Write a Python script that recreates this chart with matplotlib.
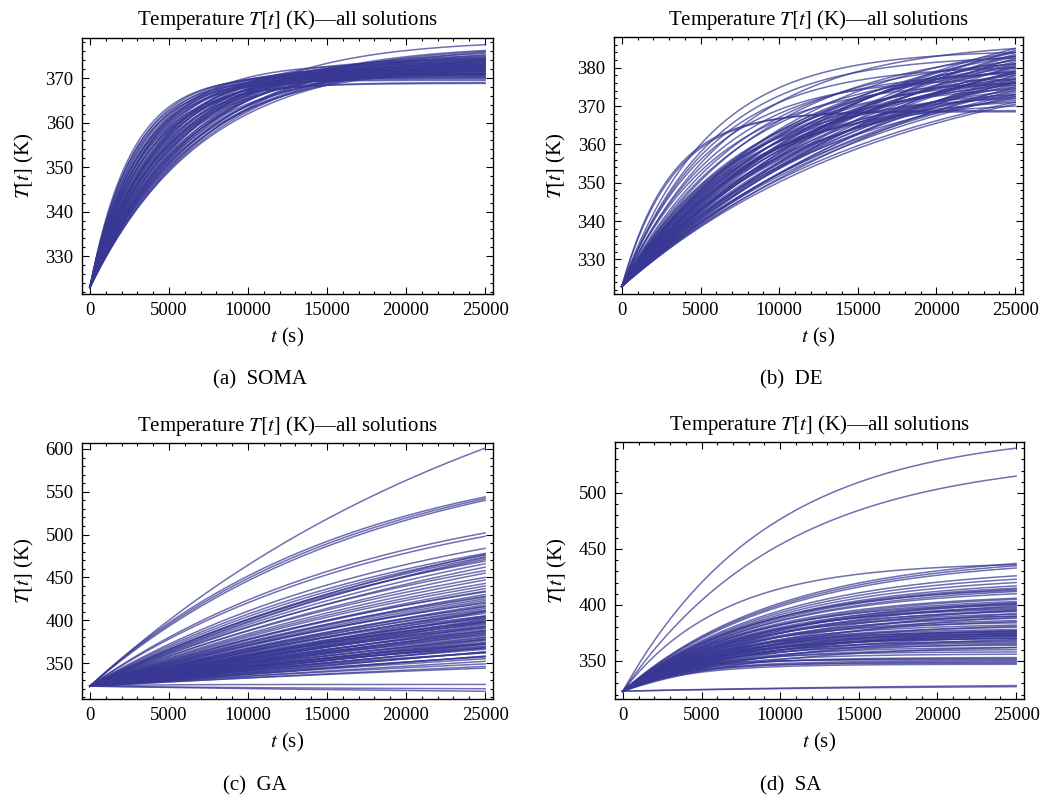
import numpy as np
import matplotlib
matplotlib.use("Agg")
import matplotlib.pyplot as plt
from matplotlib.ticker import MultipleLocator

# ---------------- data ----------------
T0 = 323.0           # initial temperature (K)
t_end = 25000.0      # s
# For each solution curve: temperature read at t = 5000 s and at t = 25000 s.
soma_T5 = [363.5, 363, 362.6, 362.2, 362, 361.7, 361.3, 361, 360.8, 360.5, 360.2, 360,
           359.7, 359.4, 359.1, 358.9, 358.6, 358.3, 358, 357.8, 357.5, 357.2, 357, 356.7,
           356.4, 356.1, 355.9, 355.6, 355.3, 355,
           354.7, 354.4, 354.1, 353.8, 353.5, 353.2, 352.9, 352.6, 352.3, 352, 351.7, 351.4,
           351.1, 350.8, 350.5, 350.2, 349.9, 349.6, 349.3, 349,
           358.4, 356.9, 355.2, 353.9, 352.5, 351.9, 357.6, 360.6, 354.8, 350.9]
soma_T25 = [370.5, 371, 370, 371.5, 369.5, 370.8, 372, 370.2, 371.2, 369.8, 372.5, 371,
            370.6, 372.2, 368.8, 373, 371.4, 369, 372.8, 370.9, 373.5, 371.8, 372.4, 374,
            371, 373.2, 372, 374.5, 371.6, 373.8,
            372.6, 375, 373.4, 371.9, 374.2, 377.5, 372.9, 375.5, 373.7, 374.8, 372.3, 376,
            373.1, 374.4, 375.2, 372.7, 373.9, 375.8, 374.1, 373.3,
            370.3, 372.1, 373, 374.6, 371.5, 376.2, 374.2, 373.3, 370.8, 371.7]

de_T5 = [360, 359.5, 359, 358, 357, 356, 355, 354, 353, 352, 351, 350.5,
         349.5, 349.2, 348.9, 348.6, 348.3, 348, 347.7, 347.4, 347.1, 346.8, 346.5, 346.2,
         345.9, 345.6, 345.3, 345, 344.7, 344.4, 344.1, 343.8, 343.5, 343.2, 342.9, 342.6,
         342.3, 342, 341.7, 341.4, 341.1, 340.8, 340.5, 340.2, 339.9, 339.6, 339.3, 339,
         338.7, 338.5,
         348.1, 347.3, 346.0, 345.1, 344.2, 343.3, 342.5, 341.6, 340.7, 339.8, 346.7, 344.9,
         343.0, 341.2, 339.5, 347.9, 345.4, 342.8]
de_T25 = [384, 368.5, 368.8, 382.5, 380, 377, 385, 378.5, 376, 381, 379, 383,
          376, 372, 379, 374.5, 381, 377, 373, 380.5, 375.5, 383, 378, 372.5,
          382, 376.5, 379.5, 374, 384, 377.5, 371.5, 381.5, 375, 380, 373.5, 378.5,
          383.5, 376, 372, 379, 382.5, 374.5, 377, 380.5, 373, 376.5, 378, 371,
          375, 370.5,
          384, 370, 382, 377, 385, 373, 381, 376, 379, 374, 371, 378.5,
          383, 375.5, 372.5, 380, 376, 384.5]

ga_T5 = [400, 397, 395, 393, 380, 378, 372, 370, 368, 366, 364, 366, 362, 360, 361, 358,
         356, 355, 354, 352, 353, 350, 351, 349, 348, 346, 347, 345, 344, 345, 342, 343,
         341, 342, 340, 339, 340, 338, 339, 337, 336, 337, 335, 336, 334, 335, 333, 334,
         332, 333, 331, 332, 330, 331, 330, 329, 329, 328, 328, 324.5, 321.5, 322,
         358, 348, 344, 341, 339, 337, 336, 334, 333, 332, 331, 346, 350, 352, 363, 365,
         340, 338, 335, 330,
         345, 344, 343, 342, 341, 340, 339, 338, 337, 336, 335, 334, 341, 346, 349, 336, 333]
ga_T25 = [601, 544, 542, 540, 502, 498, 484, 478, 476, 474, 471, 469, 466, 462, 458, 455,
          447, 443, 440, 437, 433, 430, 428, 425, 421, 418, 416, 414, 411, 408, 405, 403,
          401, 399, 397, 395, 392, 390, 388, 386, 384, 382, 380, 378, 376, 374, 372, 370,
          368, 366, 364, 362, 360, 357, 355, 352, 349, 346, 344, 325, 317, 320,
          450, 423, 410, 404, 398, 394, 389, 383, 379, 375, 370, 412, 427, 434, 473, 477,
          400, 385, 372, 365,
          405, 402, 398, 396, 393, 391, 387, 383, 380, 377, 373, 369, 410, 416, 420, 367, 362]

sa_T5 = [420, 404, 386,
         372, 371, 370, 368, 367, 366, 365, 364, 366, 363, 362, 361, 362, 360, 359, 360,
         358, 357, 358, 356, 355, 356, 354, 353, 354, 352, 351, 352, 350, 349, 350, 348,
         347, 348, 346, 345, 346, 344, 343, 344, 342, 341, 342, 340, 324.5, 324.3,
         357, 355, 353, 351, 349, 352, 350, 348, 346, 345, 343, 347, 344, 341, 365, 363,
         361, 359, 354, 351,
         358, 356, 354, 352, 350, 349, 347, 346]
sa_T25 = [540, 515, 436,
          437, 435, 433, 426, 423, 420, 417, 414, 413, 410, 406, 403, 401, 400, 398, 396,
          394, 392, 390, 388, 386, 384, 382, 380, 378, 376, 375, 374, 373, 372, 370, 368,
          366, 364, 362, 360, 358, 356, 353, 352, 350, 349, 348, 347, 328, 327,
          401, 399, 395, 392, 389, 385, 381, 377, 375, 371, 369, 373, 365, 362, 415, 412,
          405, 397, 376, 370,
          402, 395, 390, 377, 374, 367, 372, 351]

panels = [
    ("(a)  SOMA", soma_T5, soma_T25, (321.5, 379), 10, 2),
    ("(b)  DE", de_T5, de_T25, (321, 388), 10, 2),
    ("(c)  GA", ga_T5, ga_T25, (308, 607), 50, 10),
    ("(d)  SA", sa_T5, sa_T25, (316, 545.5), 50, 10),
]
for p in panels:
    assert len(p[1]) == len(p[2]), p[0]

# ---------------- style ----------------
plt.rcParams["font.family"] = ["Liberation Serif", "DejaVu Serif"]
plt.rcParams["mathtext.fontset"] = "stix"
FS_TICK = 13.5
FS_TEXT = 15
LINE_COLOR = "#383894"

fig = plt.figure(figsize=(10.52, 7.96), dpi=100)
W, H = 1052.0, 796.0
boxes = [(82, 38, 493, 294), (614, 37, 1023, 294), (82, 443, 493, 699), (615, 442, 1024, 699)]
caption_x = [260, 791, 255, 791]
caption_y = [380, 380, 786, 786]

t = np.linspace(0, t_end, 400)


def curve(T5, T25):
    r = (T25 - T0) / (T5 - T0)
    if r <= 1.0:
        a = 1e-6
    elif r >= 5.0:
        a = 0.9999
    else:
        roots = np.roots([1, 1, 1, 1, 1 - r])
        real = [z.real for z in roots if abs(z.imag) < 1e-9 and 0 < z.real < 1]
        a = real[0]
    D = (T5 - T0) / (1 - a)
    tau = -5000.0 / np.log(a)
    return T0 + D * (1 - np.exp(-t / tau))


for (cap, T5s, T25s, ylim, ymaj, ymin), box, cx, cy in zip(panels, boxes, caption_x, caption_y):
    l, tp, r_, b = box
    ax = fig.add_axes([l / W, 1 - b / H, (r_ - l) / W, (b - tp) / H])
    for T5, T25 in zip(T5s, T25s):
        ax.plot(t, curve(T5, T25), color=LINE_COLOR, lw=1.1, alpha=0.72)
    ax.set_xlim(-500, 25500)
    ax.set_ylim(*ylim)
    ax.xaxis.set_major_locator(MultipleLocator(5000))
    ax.xaxis.set_minor_locator(MultipleLocator(1000))
    ax.yaxis.set_major_locator(MultipleLocator(ymaj))
    ax.yaxis.set_minor_locator(MultipleLocator(ymin))
    ax.tick_params(which="both", direction="in", top=True, right=True, labelsize=FS_TICK, width=0.8)
    ax.tick_params(which="major", length=5, pad=6)
    ax.tick_params(which="minor", length=2.5)
    for s in ax.spines.values():
        s.set_linewidth(1.0)
    ax.set_title("Temperature $T[t]$ (K)\u2014all solutions", fontsize=FS_TEXT, pad=9)
    ax.set_xlabel("$t$ (s)", fontsize=FS_TEXT, labelpad=5)
    ax.set_ylabel("$T[t]$ (K)", fontsize=FS_TEXT, labelpad=7)
    fig.text(cx / W, 1 - cy / H, cap, ha="center", va="center", fontsize=FS_TEXT)

fig.savefig("out.png", dpi=100)
